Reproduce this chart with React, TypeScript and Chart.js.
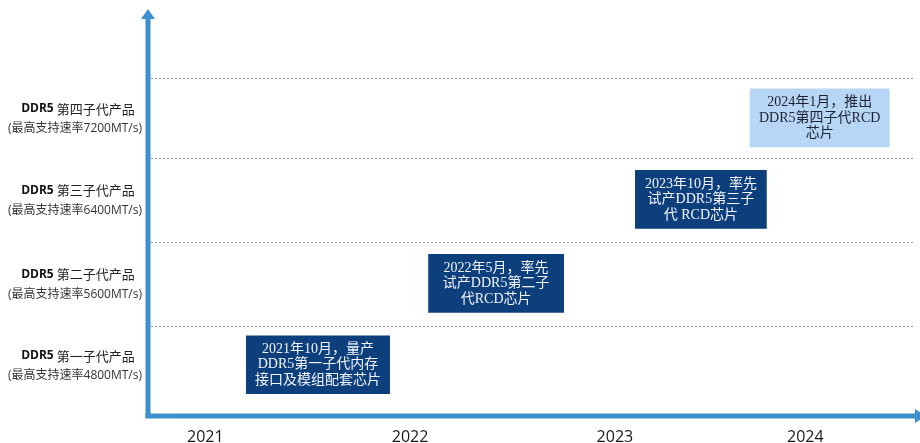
import React, { useEffect, useRef } from 'react';
import { Chart, registerables } from 'chart.js';

Chart.register(...registerables);

// ---- data ----
const generationNames = ['第一子代产品', '第二子代产品', '第三子代产品', '第四子代产品'];
const speedLabels = [
  '(最高支持速率4800MT/s)',
  '(最高支持速率5600MT/s)',
  '(最高支持速率6400MT/s)',
  '(最高支持速率7200MT/s)',
];
const rowCenters = [0.61, 1.58, 2.58, 3.55];
const rowBounds = [1.07, 2.07, 3.07, 4.02];
const yearLabels = ['2021', '2022', '2023', '2024'];
const yearTickPos = [2021, 2022, 2023, 2023.93];
const milestoneStart = [2021.2, 2022.09, 2023.1, 2023.66];
const milestoneEnd = [2021.9, 2022.75, 2023.74, 2024.34];
const milestoneText = [
  ['2021年10月，量产', 'DDR5第一子代内存', '接口及模组配套芯片'],
  ['2022年5月，率先', '试产DDR5第二子', '代RCD芯片'],
  ['2023年10月，率先', '试产DDR5第三子', '代 RCD芯片'],
  ['2024年1月，推出', 'DDR5第四子代RCD', '芯片'],
];
const milestoneFill = ['#0d3f7d', '#0d3f7d', '#0d3f7d', '#b7d5f4'];
const milestoneTextColor = ['#f2f5fa', '#f2f5fa', '#f2f5fa', '#1c2433'];

const AXIS_COLOR = '#3d90cf';

const timelinePlugin = {
  id: 'timeline',
  beforeDatasetsDraw(chart: any) {
    const { ctx, chartArea, scales } = chart;
    const y = scales.y;
    ctx.save();
    ctx.strokeStyle = '#9a9a9a';
    ctx.lineWidth = 1;
    ctx.setLineDash([2, 2]);
    rowBounds.forEach((v) => {
      const py = Math.round(y.getPixelForValue(v)) + 0.5;
      ctx.beginPath();
      ctx.moveTo(chartArea.left + 3, py);
      ctx.lineTo(chartArea.right - 5, py);
      ctx.stroke();
    });
    ctx.restore();
  },
  afterDatasetsDraw(chart: any) {
    const { ctx, chartArea, scales } = chart;
    const y = scales.y;
    // milestone texts
    const meta = chart.getDatasetMeta(0);
    ctx.save();
    ctx.textAlign = 'center';
    ctx.textBaseline = 'middle';
    ctx.font = "14px 'Liberation Serif', 'Noto Sans CJK SC', serif";
    meta.data.forEach((bar: any, i: number) => {
      const cx = (bar.x + bar.base) / 2;
      const cy = bar.y;
      const lines = milestoneText[i];
      const lh = 15.5;
      ctx.fillStyle = milestoneTextColor[i];
      lines.forEach((t, j) => {
        ctx.fillText(t, cx, cy + (j - (lines.length - 1) / 2) * lh);
      });
    });
    ctx.restore();

    // left labels
    ctx.save();
    ctx.textBaseline = 'middle';
    rowCenters.forEach((v, i) => {
      const py = y.getPixelForValue(v);
      const cx = 78;
      const a = 'DDR5 ';
      const b = generationNames[i];
      ctx.font = "bold 12px 'Open Sans', 'Noto Sans', sans-serif";
      const wa = ctx.measureText(a).width;
      ctx.font = "13px 'Noto Sans CJK SC', serif";
      const wb = ctx.measureText(b).width;
      const start = cx - (wa + wb) / 2;
      ctx.textAlign = 'left';
      ctx.fillStyle = '#111';
      ctx.font = "bold 12px 'Open Sans', 'Noto Sans', sans-serif";
      ctx.fillText(a, start, py - 9);
      ctx.font = "13px 'Noto Sans CJK SC', serif";
      ctx.fillStyle = '#222';
      ctx.fillText(b, start + wa, py - 9);
      ctx.textAlign = 'center';
      ctx.font = "12px 'Open Sans', 'Noto Sans CJK SC', sans-serif";
      ctx.fillStyle = '#333';
      ctx.fillText(speedLabels[i], 75, py + 11);
    });
    ctx.restore();

    // axes with arrows
    const left = chartArea.left;
    const bottom = chartArea.bottom;
    ctx.save();
    ctx.strokeStyle = AXIS_COLOR;
    ctx.fillStyle = AXIS_COLOR;
    ctx.lineWidth = 5;
    ctx.setLineDash([]);
    ctx.beginPath();
    ctx.moveTo(left, bottom + 2);
    ctx.lineTo(left, chartArea.top + 6);
    ctx.stroke();
    ctx.beginPath();
    ctx.moveTo(left - 2.5, bottom);
    ctx.lineTo(chartArea.right, bottom);
    ctx.stroke();
    // top arrow
    ctx.beginPath();
    ctx.moveTo(left, chartArea.top - 4);
    ctx.lineTo(left - 7, chartArea.top + 6);
    ctx.lineTo(left + 7, chartArea.top + 6);
    ctx.closePath();
    ctx.fill();
    // right arrow (partially clipped)
    ctx.beginPath();
    ctx.moveTo(chartArea.right + 6, bottom);
    ctx.lineTo(chartArea.right - 5, bottom - 7);
    ctx.lineTo(chartArea.right - 5, bottom + 7);
    ctx.closePath();
    ctx.fill();
    ctx.restore();
  },
};

export default function App() {
  const ref = useRef<HTMLCanvasElement | null>(null);
  useEffect(() => {
    document.body.style.margin = '0';
    if (!ref.current) return;
    const chart = new Chart(ref.current, {
      type: 'bar',
      data: {
        datasets: [
          {
            data: rowCenters.map((v, i) => ({ x: [milestoneStart[i], milestoneEnd[i]], y: v })) as any,
            backgroundColor: milestoneFill,
            borderWidth: 0,
            barThickness: 58,
          },
        ],
      },
      options: {
        indexAxis: 'y',
        animation: false,
        responsive: false,
        layout: { padding: { left: 148, top: 13, right: 0, bottom: 0 } },
        plugins: { legend: { display: false }, tooltip: { enabled: false } },
        scales: {
          y: {
            type: 'linear',
            min: 0,
            max: 4.8,
            offset: false,
            display: false,
          },
          x: {
            type: 'linear',
            min: 2020.72,
            max: 2024.49,
            grid: { display: false },
            border: { display: false },
            afterBuildTicks: (scale: any) => {
              scale.ticks = yearTickPos.map((v) => ({ value: v }));
            },
            afterFit: (scale: any) => {
              scale.height = 27;
            },
            ticks: {
              autoSkip: false,
              maxRotation: 0,
              padding: 4,
              color: '#1a1a1a',
              font: { size: 16, family: "'Open Sans', 'Noto Sans', sans-serif" },
              callback: (_v: any, i: number) => yearLabels[i],
            },
          },
        },
      },
      plugins: [timelinePlugin],
    });
    return () => chart.destroy();
  }, []);
  return (
    <div style={{ width: 920, height: 443, background: '#fff' }}>
      <canvas ref={ref} width={920} height={443} />
    </div>
  );
}
